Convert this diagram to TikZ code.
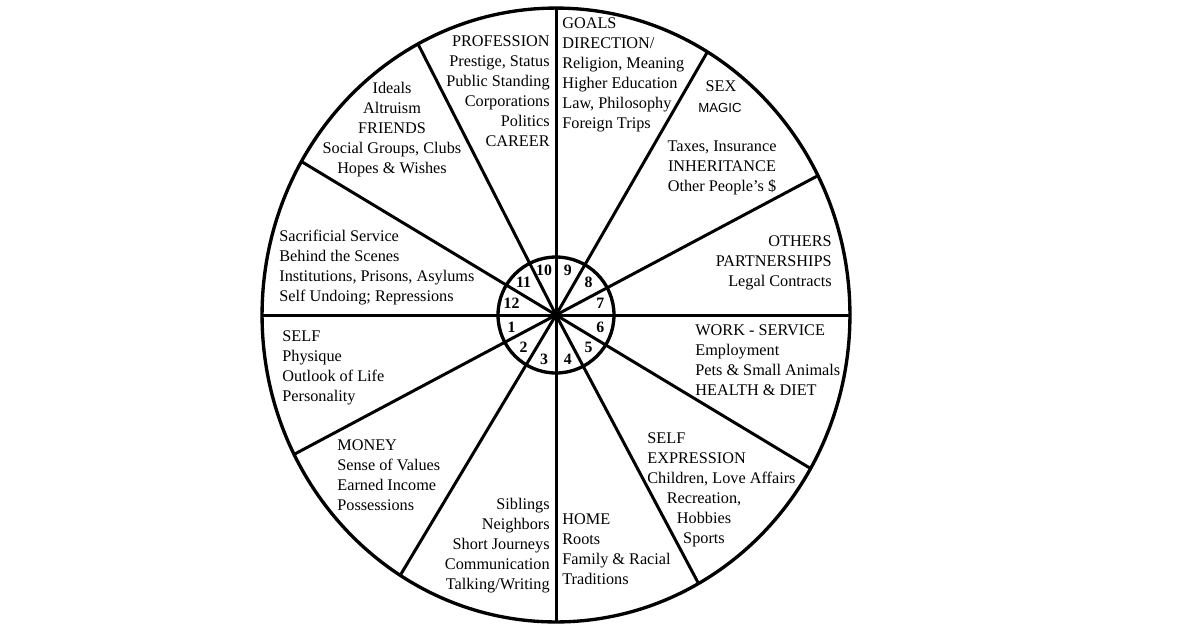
\documentclass[tikz,border=0pt]{standalone}
\usepackage{fontspec}
\setmainfont{Liberation Serif}
\setsansfont{Liberation Sans}
\usetikzlibrary{calc}

\begin{document}
\begin{tikzpicture}[x=0.02cm, y=-0.02cm,
	rim/.style={line width=1.9pt},
	spoke/.style={line width=1.7pt},
	house/.style={inner sep=0pt, font=\fontsize{9.25}{11.4}\selectfont},
	num/.style={inner sep=0pt, font=\fontsize{9}{10}\selectfont\bfseries}]
	\useasboundingbox[fill=white] (0,0) rectangle (1200,630);
	\coordinate (hub) at (556,315);

	% wheel
	\draw[rim] (hub) ellipse [x radius=5.88cm, y radius=6.14cm];
	\draw[rim] (hub) circle [radius=1.16cm];
	\foreach \a in {0,-27,-59,-90,-118,-150,-180,-207,-238,-270,-299,-330}
		\draw[spoke] (hub) -- ++(\a:294 and 307);
	\fill (hub) circle [radius=0.09cm];

	% house numbers
	\foreach \n in {1,...,12}
		\node[num] (n\n) at ($(hub)+({195-30*\n}:46)$) {\n};

	% upper left houses
	\node[house, anchor=north east, align=right] (h10) at (550,35)
		{PROFESSION\\Prestige, Status\\Public Standing\\Corporations\\Politics\\CAREER};
	\node[house, anchor=north, align=center] (h11) at (392,82)
		{Ideals\\Altruism\\FRIENDS\\Social Groups, Clubs\\Hopes \& Wishes};
	\node[house, anchor=north west, align=left] (h12) at (279,230)
		{Sacrificial Service\\Behind the Scenes\\Institutions, Prisons, Asylums\\Self Undoing; Repressions};

	% upper right houses
	\node[house, anchor=north west, align=left] (h9) at (562,17)
		{GOALS\\DIRECTION/\\Religion, Meaning\\Higher Education\\Law, Philosophy\\Foreign Trips};
	\node[house, anchor=north] (h8) at (721,80) {SEX};
	\node[inner sep=0pt, font=\sffamily\fontsize{7.5}{9}\selectfont] (magic) at (720,108) {MAGIC};
	\node[house, anchor=north, align=center] (h8b) at (722,140)
		{Taxes, Insurance\\INHERITANCE\\Other People's \$};
	\node[house, anchor=north east, align=right] (h7) at (832,235)
		{OTHERS\\PARTNERSHIPS\\Legal Contracts};

	% lower right houses
	\node[house, anchor=north west, align=left] (h6) at (695,324)
		{WORK - SERVICE\\Employment\\Pets \& Small Animals\\HEALTH \& DIET};
	\node[house, anchor=north west, align=left] (h5) at (647,432)
		{SELF\\EXPRESSION\\Children, Love Affairs};
	\node[house, anchor=north, align=center] (h5b) at (704,492)
		{Recreation,\\Hobbies\\Sports};
	\node[house, anchor=north west, align=left] (h4) at (562,513)
		{HOME\\Roots\\Family \& Racial\\Traditions};

	% lower left houses
	\node[house, anchor=north east, align=right] (h3) at (550,498)
		{Siblings\\Neighbors\\Short Journeys\\Communication\\Talking/Writing};
	\node[house, anchor=north west, align=left] (h2) at (337,439)
		{MONEY\\Sense of Values\\Earned Income\\Possessions};
	\node[house, anchor=north west, align=left] (h1) at (282,330)
		{SELF\\Physique\\Outlook of Life\\Personality};
\end{tikzpicture}
\end{document}
